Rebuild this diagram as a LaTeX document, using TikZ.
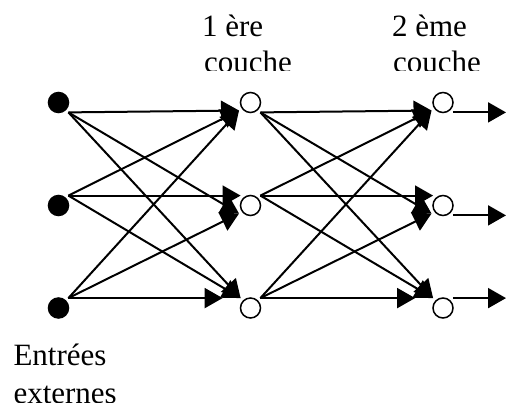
\documentclass[tikz,border=0pt]{standalone}
\usepackage{fontspec}
\setmainfont{Liberation Serif}
\usetikzlibrary{arrows.meta}

\begin{document}
\begin{tikzpicture}[x=1pt, y=-1pt, >={Triangle[length=18pt, width=20pt]},
  line width=2pt,
  unit/.style={circle, draw, minimum size=20pt, inner sep=0pt, outer sep=4pt,
    line width=1.5pt},
  inp/.style={unit, fill=black},
  hid/.style={unit, fill=white},
  txt/.style={anchor=base west, inner sep=0pt, font=\fontsize{31}{36}\selectfont}]
  \useasboundingbox (0,0) rectangle (507,403);
  \foreach \i/\y in {1/102.5, 2/205.5, 3/308} {
    \node[inp] (i\i) at (58.5, \y) {};
    \node[hid] (h\i) at (250.5, \y) {};
    \node[hid] (o\i) at (443, \y) {};
  }
  \coordinate (edge) at (506, 0);
  % layer labels, cut off by their text boxes
  \begin{scope}
    \clip (0,0) rectangle (507,71);
    \node[txt] (l1) at (201, 37) {1 ère};
    \node[txt] (c1) at (203, 73) {couche};
    \node[txt] (l2) at (391, 37) {2 ème};
    \node[txt] (c2) at (392, 73) {couche};
  \end{scope}
  \node[txt] (ent) at (12.5, 366) {Entrées};
  \node[txt] (ext) at (12.5, 404) {externes};
  % inputs to first layer
  \draw[->] (i1.-45) -- (h1.215);
  \draw[->] (i1.-45) -- (h2.215);
  \draw[->] (i1.-45) -- (h3.135);
  \draw[->] (i2.45) -- (h1.215);
  \draw[->] (i2.45) -- (h2.135);
  \draw[->] (i2.45) -- (h3.135);
  \draw[->] (i3.45) -- (h1.215);
  \draw[->] (i3.45) -- (h2.215);
  \draw[->, shorten >=18pt] (i3.45) -- (h3.135);
  % first layer to second layer
  \draw[->] (h1.-45) -- (o1.215);
  \draw[->] (h1.-45) -- (o2.215);
  \draw[->] (h1.-45) -- (o3.135);
  \draw[->] (h2.45) -- (o1.215);
  \draw[->] (h2.45) -- (o2.135);
  \draw[->] (h2.45) -- (o3.135);
  \draw[->] (h3.45) -- (o1.215);
  \draw[->] (h3.45) -- (o2.215);
  \draw[->, shorten >=18pt] (h3.45) -- (o3.135);
  % outputs
  \draw[->] (o1.-45) -- (o1.-45 -| edge);
  \draw[->] (o2.-45) -- (o2.-45 -| edge);
  \draw[->] (o3.45) -- (o3.45 -| edge);
\end{tikzpicture}
\end{document}
